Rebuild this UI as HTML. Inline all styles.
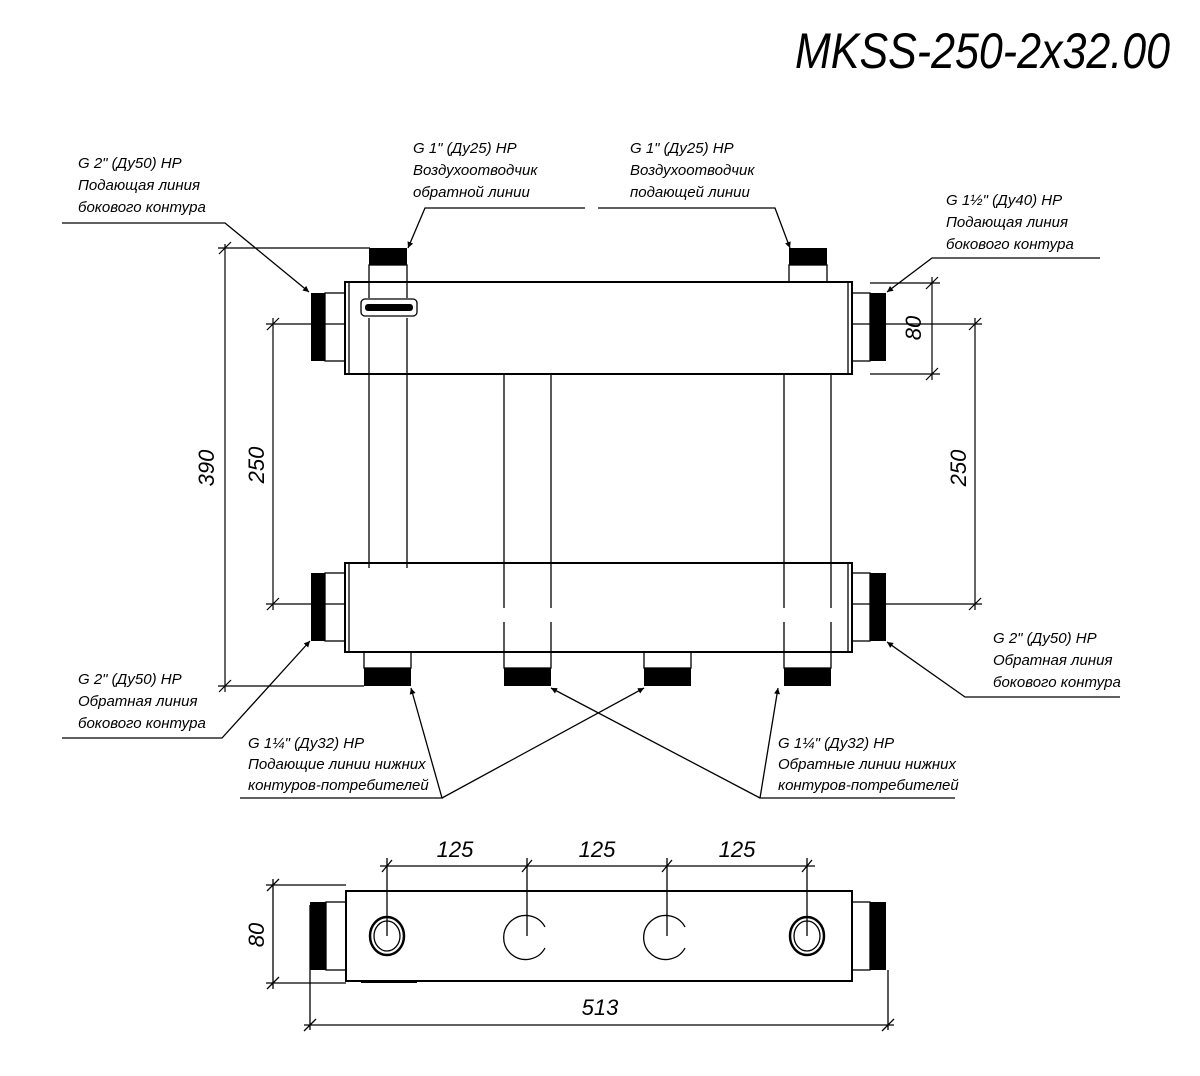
<!DOCTYPE html>
<html><head><meta charset="utf-8"><style>
html,body{margin:0;padding:0;background:#fff;}
svg text{font-family:"Liberation Sans Narrow","Liberation Sans",sans-serif;font-style:italic;fill:#000;}
</style></head><body>
<svg width="1200" height="1071" viewBox="0 0 1200 1071" xmlns="http://www.w3.org/2000/svg">
<defs>
<marker id="a" viewBox="0 0 10 10" refX="10" refY="5" markerWidth="10" markerHeight="6" orient="auto" markerUnits="userSpaceOnUse"><path d="M0,0 L10,5 L0,10 z" fill="#000"/></marker>
</defs>
<text x="795" y="68" font-size="50" textLength="375" lengthAdjust="spacingAndGlyphs" style="font-weight:normal">MKSS-250-2x32.00</text>

<g stroke="#000" fill="none" stroke-width="1.3">
<rect x="345" y="282" width="507" height="92" stroke-width="2"/>
<line x1="349" y1="282" x2="349" y2="374"/>
<line x1="848" y1="282" x2="848" y2="374"/>
<rect x="325" y="293" width="20" height="68"/>
<rect x="852" y="293" width="18" height="68"/>
<rect x="369" y="265" width="38" height="17"/>
<rect x="789" y="265" width="38" height="17"/>
<rect x="345" y="563" width="507" height="89" stroke-width="2"/>
<line x1="349" y1="563" x2="349" y2="652"/>
<line x1="848" y1="563" x2="848" y2="652"/>
<rect x="325" y="573" width="20" height="68"/>
<rect x="852" y="573" width="18" height="68"/>
<rect x="364" y="652" width="47" height="16"/>
<rect x="504" y="652" width="47" height="16"/>
<rect x="644" y="652" width="47" height="16"/>
<rect x="784" y="652" width="47" height="16"/>
<path d="M369 282V298M407 282V298M369 318V563M407 318V563"/>
<path d="M504 374V608M551 374V608M504 622V652M551 622V652"/>
<path d="M784 374V608M831 374V608M784 622V652M831 622V652"/>
<path d="M369 563V568M407 563V568"/>
<rect x="361" y="299" width="56" height="17" rx="4"/>
</g>
<g fill="#000">
<rect x="311" y="293" width="14" height="68"/>
<rect x="870" y="293" width="16" height="68"/>
<rect x="369" y="248" width="38" height="17"/>
<rect x="789" y="248" width="38" height="17"/>
<rect x="311" y="573" width="14" height="68"/>
<rect x="870" y="573" width="16" height="68"/>
<rect x="364" y="668" width="47" height="18"/>
<rect x="504" y="668" width="47" height="18"/>
<rect x="644" y="668" width="47" height="18"/>
<rect x="784" y="668" width="47" height="18"/>
<rect x="365" y="304" width="48" height="7" rx="3"/>
</g>

<g stroke="#000" fill="none" stroke-width="1.2">
<path d="M218 248H370M218 686H364M225 244V692"/>
<path d="M219 254L231 242M219 692L231 680"/>
<path d="M266 324H345M266 604H345M273 318V610M267 330L279 318M267 610L279 598"/>
<path d="M870 283H940M870 374H940M932 277V380M926 289L938 277M926 380L938 368"/>
<path d="M852 324H982M852 604H982M975 318V610M969 330L981 318M969 610L981 598"/>
</g>
<text transform="translate(214,468) rotate(-90)" font-size="22" text-anchor="middle">390</text>
<text transform="translate(264,465) rotate(-90)" font-size="22" text-anchor="middle">250</text>
<text transform="translate(921,328) rotate(-90)" font-size="22" text-anchor="middle">80</text>
<text transform="translate(966,468) rotate(-90)" font-size="22" text-anchor="middle">250</text>

<g stroke="#000" fill="none" stroke-width="1.3">
<path d="M62 223H225L309 292" marker-end="url(#a)"/>
<path d="M585 208H425L408 248" marker-end="url(#a)"/>
<path d="M598 208H775L790 248" marker-end="url(#a)"/>
<path d="M1100 258H932L887 292" marker-end="url(#a)"/>
<path d="M62 738H222L310 641" marker-end="url(#a)"/>
<path d="M1120 697H965L887 642" marker-end="url(#a)"/>
<path d="M240 798H442L411 688" marker-end="url(#a)"/>
<path d="M442 798L644 688" marker-end="url(#a)"/>
<path d="M955 798H760L778 688" marker-end="url(#a)"/>
<path d="M760 798L551 688" marker-end="url(#a)"/>
</g>
<g font-size="15">
<text x="78" y="168">G 2" (Ду50) НР</text>
<text x="78" y="190">Подающая линия</text>
<text x="78" y="212">бокового контура</text>
<text x="413" y="153">G 1" (Ду25) НР</text>
<text x="413" y="175">Воздухоотводчик</text>
<text x="413" y="197">обратной линии</text>
<text x="630" y="153">G 1" (Ду25) НР</text>
<text x="630" y="175">Воздухоотводчик</text>
<text x="630" y="197">подающей линии</text>
<text x="946" y="205">G 1½" (Ду40) НР</text>
<text x="946" y="227">Подающая линия</text>
<text x="946" y="249">бокового контура</text>
<text x="78" y="684">G 2" (Ду50) НР</text>
<text x="78" y="706">Обратная линия</text>
<text x="78" y="728">бокового контура</text>
<text x="993" y="643">G 2" (Ду50) НР</text>
<text x="993" y="665">Обратная линия</text>
<text x="993" y="687">бокового контура</text>
<text x="248" y="748">G 1¼" (Ду32) НР</text>
<text x="248" y="769">Подающие линии нижних</text>
<text x="248" y="790">контуров-потребителей</text>
<text x="778" y="748">G 1¼" (Ду32) НР</text>
<text x="778" y="769">Обратные линии нижних</text>
<text x="778" y="790">контуров-потребителей</text>
</g>

<g stroke="#000" fill="none" stroke-width="1.3">
<rect x="346" y="891" width="506" height="90" stroke-width="2"/>
<rect x="326" y="902" width="20" height="68"/>
<rect x="852" y="902" width="18" height="68"/>
<line x1="361" y1="982" x2="417" y2="982" stroke-width="2"/>
<ellipse cx="387" cy="936" rx="17" ry="19" stroke-width="2.5"/>
<ellipse cx="387" cy="936" rx="13" ry="15"/>
<ellipse cx="807" cy="936" rx="17" ry="19" stroke-width="2.5"/>
<ellipse cx="807" cy="936" rx="13" ry="15"/>
<path d="M545 948A22 22 0 1 1 545 927"/>
<path d="M685 948A22 22 0 1 1 685 927"/>
<path d="M387 936V858M527 936V858M667 936V858M807 936V858M380 866H815"/>
<path d="M382 872L392 860M522 872L532 860M662 872L672 860M802 872L812 860"/>
<path d="M266 885H346M266 983H346M273 879V989M267 891L279 879M267 989L279 977"/>
<path d="M310 905V1030M888 970V1030M304 1025H894M304 1031L316 1019M882 1031L894 1019"/>
</g>
<g fill="#000">
<rect x="310" y="902" width="16" height="68"/>
<rect x="870" y="902" width="16" height="68"/>
</g>
<text x="455" y="857" font-size="22" text-anchor="middle">125</text>
<text x="597" y="857" font-size="22" text-anchor="middle">125</text>
<text x="737" y="857" font-size="22" text-anchor="middle">125</text>
<text transform="translate(264,935) rotate(-90)" font-size="22" text-anchor="middle">80</text>
<text x="600" y="1015" font-size="22" text-anchor="middle">513</text>
</svg>
</body></html>
